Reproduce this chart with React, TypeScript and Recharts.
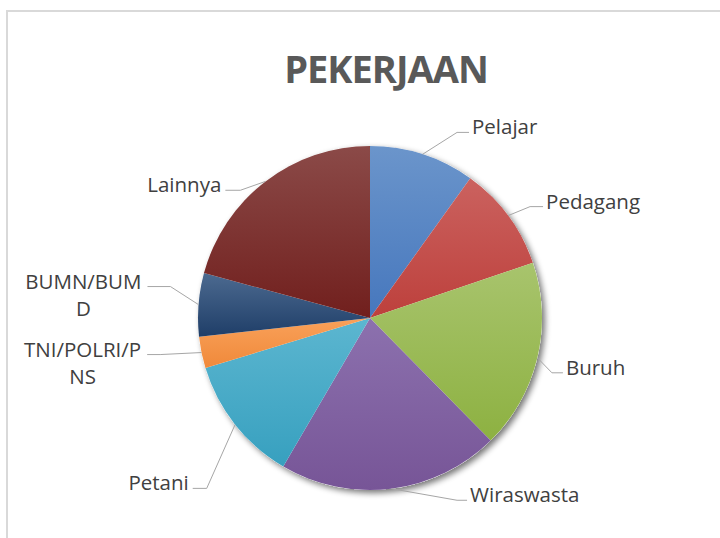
import { PieChart, Pie, Cell } from "recharts"

const CATEGORIES = [
  "Pelajar",
  "Pedagang",
  "Buruh",
  "Wiraswasta",
  "Petani",
  "TNI/POLRI/PNS",
  "BUMN/BUMD",
  "Lainnya",
]
const COUNTS = [10, 10, 18, 21, 12, 3, 6, 21]

// top / bottom colour of each slice's gradient
const TOP_COLORS = ["#6b95cb", "#cb625f", "#a8c46d", "#8c71ae", "#5cb6d0", "#f9a15a", "#4c6a90", "#8b4a48"]
const BOTTOM_COLORS = ["#4677bd", "#bd403c", "#8db141", "#775597", "#37a0bf", "#f0893a", "#1f3e68", "#711f1d"]

// Excel wraps the long labels inside a fixed box
const LABEL_LINES: Record<string, string[]> = {
  "TNI/POLRI/PNS": ["TNI/POLRI/P", "NS"],
  "BUMN/BUMD": ["BUMN/BUM", "D"],
}

// leader line: angle shift of the elbow from the slice middle (deg, clockwise), elbow radius, tick length
const LABEL_NUDGE: Record<string, [number, number, number]> = {
  Pelajar: [7.3, 205, 12],
  Pedagang: [1.7, 195, 13],
  Buruh: [3.4, 190, 11],
  Wiraswasta: [-18.4, 202, 10],
  Petani: [-7.9, 236, 14],
  "TNI/POLRI/PNS": [1.7, 213, 13],
  "BUMN/BUMD": [4.5, 202, 23],
  Lainnya: [-8, 182, 15],
}

const FONT = "'Open Sans', sans-serif"
const LABEL_SIZE = 20.5

const data = CATEGORIES.map((name, i) => ({ name, value: COUNTS[i] }))
const backing = [{ name: "bg", value: 1 }]

let ctx: CanvasRenderingContext2D | null = null
function textWidth(s: string) {
  if (!ctx) ctx = document.createElement("canvas").getContext("2d")
  if (!ctx) return s.length * 11
  ctx.font = `${LABEL_SIZE}px 'Open Sans'`
  return ctx.measureText(s).width
}

const RAD = Math.PI / 180

function renderLabel(props: any) {
  const { cx, cy, midAngle, outerRadius, name } = props
  const theta = 90 - midAngle // clockwise from 12 o'clock
  const [shift, r, tick] = LABEL_NUDGE[name] || [0, outerRadius + 28, 12]
  const sx = cx + outerRadius * Math.sin(theta * RAD)
  const sy = cy - outerRadius * Math.cos(theta * RAD)
  const et = theta + shift
  const ex = cx + r * Math.sin(et * RAD)
  const ey = cy - r * Math.cos(et * RAD)
  const right = ((et % 360) + 360) % 360 < 180
  const tx = right ? ex + tick : ex - tick
  const lines = LABEL_LINES[name] || [name]
  let textX = right ? tx + 3 : tx - 4
  let anchor: "start" | "end" | "middle" = right ? "start" : "end"
  if (lines.length > 1) {
    const w = Math.max(...lines.map(textWidth))
    textX = right ? tx + 4 + w / 2 : tx - 6 - w / 2
    anchor = "middle"
  }
  return (
    <g key={`lbl-${name}`}>
      <polyline
        points={`${sx},${sy} ${ex},${ey} ${tx},${ey}`}
        fill="none"
        stroke="#a6a6a6"
        strokeWidth={1}
      />
      <text
        x={textX}
        y={ey - 6}
        textAnchor={anchor}
        dominantBaseline="central"
        fill="#404040"
        fontFamily={FONT}
        fontSize={LABEL_SIZE}
      >
        {lines.map((ln, i) => (
          <tspan key={i} x={textX} dy={i === 0 ? 0 : 27}>
            {ln}
          </tspan>
        ))}
      </text>
    </g>
  )
}

export default function App() {
  return (
    <div
      style={{
        position: "absolute",
        left: 0,
        top: 0,
        width: 720,
        height: 538,
        overflow: "hidden",
        background: "#ffffff",
      }}
    >
      <svg width={0} height={0} style={{ position: "absolute" }}>
        <defs>
          {CATEGORIES.map((c, i) => (
            <linearGradient key={c} id={`grad-${i}`} x1="0" y1="0" x2="0" y2="1">
              <stop offset="0%" stopColor={TOP_COLORS[i]} />
              <stop offset="100%" stopColor={BOTTOM_COLORS[i]} />
            </linearGradient>
          ))}
          <filter id="pieShadow" x="-20%" y="-20%" width="140%" height="140%">
            <feGaussianBlur in="SourceAlpha" stdDeviation="3" />
            <feOffset dx="3" dy="3" result="blur" />
            <feComponentTransfer>
              <feFuncA type="linear" slope="0.55" />
            </feComponentTransfer>
            <feMerge>
              <feMergeNode />
              <feMergeNode in="SourceGraphic" />
            </feMerge>
          </filter>
        </defs>
      </svg>
      <div
        style={{
          position: "absolute",
          left: 6,
          top: 10,
          width: 760,
          height: 600,
          border: "2px solid #d9d9d9",
        }}
      />
      <div
        style={{
          position: "absolute",
          left: 186,
          top: 40,
          width: 400,
          textAlign: "center",
          fontFamily: FONT,
          fontWeight: 700,
          fontSize: 38,
          letterSpacing: -1,
          lineHeight: "56px",
          color: "#595959",
        }}
      >
        PEKERJAAN
      </div>
      <div style={{ position: "absolute", left: 0, top: 0 }}>
        <PieChart width={720} height={538} margin={{ top: 0, right: 0, bottom: 0, left: 0 }}>
          <Pie
            data={backing}
            dataKey="value"
            cx={370}
            cy={318}
            outerRadius={172}
            startAngle={90}
            endAngle={-270}
            stroke="none"
            isAnimationActive={false}
          >
            <Cell fill="#ffffff" filter="url(#pieShadow)" />
          </Pie>
          <Pie
            data={data}
            dataKey="value"
            nameKey="name"
            cx={370}
            cy={318}
            outerRadius={172}
            startAngle={90}
            endAngle={-270}
            stroke="none"
            label={renderLabel}
            labelLine={false}
            isAnimationActive={false}
          >
            {data.map((d, i) => (
              <Cell key={d.name} fill={`url(#grad-${i})`} />
            ))}
          </Pie>
        </PieChart>
      </div>
    </div>
  )
}
